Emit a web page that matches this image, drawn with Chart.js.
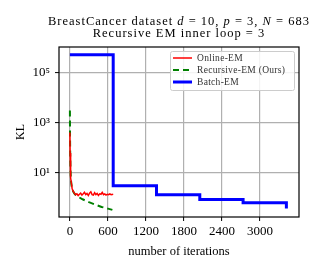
<!DOCTYPE html>
<html>
<head>
<meta charset="utf-8">
<script src="https://cdn.jsdelivr.net/npm/chart.js@4/dist/chart.umd.min.js"></script>
<style>
  html, body { margin: 0; padding: 0; background: #fff; }
  #wrap { width: 314px; height: 271px; }
</style>
</head>
<body>
<div id="wrap"><canvas id="chart" width="314" height="271"></canvas></div>
<script>
// online EM (noisy)
const onlineIter = [0, 3, 8, 15, 25, 35, 50, 70, 90, 110, 130, 150, 170, 190, 210, 230, 250, 270, 290, 310, 330, 350, 370, 390, 410, 430, 450, 470, 490, 510, 530, 550, 570, 590, 610, 630, 650, 683];
const onlineKL = [400, 60, 15, 6, 3.5, 2.3, 1.8, 1.5, 1.3, 1.4, 1.2, 1.35, 1.5, 1.25, 1.4, 1.6, 1.3, 1.45, 1.2, 1.5, 1.7, 1.3, 1.25, 1.55, 1.3, 1.45, 1.2, 1.4, 1.35, 1.6, 1.3, 1.4, 1.25, 1.35, 1.3, 1.4, 1.3, 1.35];

// recursive EM
const recIter = [0, 2, 5, 10, 15, 20, 30, 40, 60, 80, 100, 150, 200, 300, 400, 500, 600, 670];
const recKL = [3000, 300, 50, 12, 6, 4, 2.6, 2.0, 1.6, 1.35, 1.2, 1.0, 0.85, 0.65, 0.52, 0.42, 0.36, 0.32];

// batch EM (one step per full pass of N = 683)
const batchIter = [0, 683, 1366, 2049, 2732, 3415];
const batchKL = [5.2e5, 2.95, 1.29, 0.84, 0.62, 0.36];

const xTicks = [0, 600, 1200, 1800, 2400, 3000];
const yTicks = [10, 1000, 100000];
const yTickLabels = ["10¹", "10³", "10⁵"];

const serif = "'Liberation Serif', 'DejaVu Serif', serif";

function pts(xs, ys) {
  return xs.map((x, i) => ({ x: x, y: ys[i] }));
}

// frame around the plot area
const framePlugin = {
  id: "frame",
  afterDatasetsDraw(chart) {
    const a = chart.chartArea;
    const ctx = chart.ctx;
    ctx.save();
    ctx.strokeStyle = "#000";
    ctx.lineWidth = 1.2;
    ctx.strokeRect(a.left, a.top, a.right - a.left, a.bottom - a.top);
    ctx.restore();
  }
};

// two line title with italic math letters
const titlePlugin = {
  id: "mathTitle",
  afterDraw(chart) {
    const ctx = chart.ctx;
    const a = chart.chartArea;
    const cx = (a.left + a.right) / 2;
    const lines = [
      [["BreastCancer dataset ", ""], ["d", "italic "], [" = 10, ", ""], ["p", "italic "], [" = 3, ", ""], ["N", "italic "], [" = 683", ""]],
      [["Recursive EM inner loop = 3", ""]]
    ];
    const ys = [24.5, 37];
    ctx.save();
    ctx.fillStyle = "#000";
    ctx.textBaseline = "alphabetic";
    ctx.textAlign = "left";
    ctx.letterSpacing = "1px";
    lines.forEach((segs, li) => {
      let w = 0;
      segs.forEach(s => { ctx.font = s[1] + "12.5px " + serif; w += ctx.measureText(s[0]).width; });
      let x = cx - w / 2;
      segs.forEach(s => {
        ctx.font = s[1] + "12.5px " + serif;
        ctx.fillText(s[0], x, ys[li]);
        x += ctx.measureText(s[0]).width;
      });
    });
    ctx.restore();
  }
};

// legend inside the upper right corner
const legendPlugin = {
  id: "innerLegend",
  afterDraw(chart) {
    const ctx = chart.ctx;
    const a = chart.chartArea;
    const boxW = 124, boxH = 39;
    const bx = a.right - 5 - boxW, by = a.top + 4;
    ctx.save();
    ctx.fillStyle = "rgba(255,255,255,0.85)";
    ctx.strokeStyle = "#cccccc";
    ctx.lineWidth = 1;
    ctx.beginPath();
    ctx.roundRect(bx + 0.5, by + 0.5, boxW, boxH, 2);
    ctx.fill();
    ctx.stroke();
    ctx.font = "9.5px " + serif;
    ctx.letterSpacing = "0.3px";
    ctx.textBaseline = "middle";
    ctx.fillStyle = "#333";
    chart.data.datasets.forEach((ds, i) => {
      const y = by + 7 + i * 12;
      ctx.strokeStyle = ds.borderColor;
      ctx.lineWidth = ds.borderWidth;
      ctx.setLineDash(ds.borderDash || []);
      ctx.beginPath();
      ctx.moveTo(bx + 3, y);
      ctx.lineTo(bx + 22, y);
      ctx.stroke();
      ctx.setLineDash([]);
      ctx.fillText(ds.label, bx + 27, y + 0.5);
    });
    ctx.restore();
  }
};

new Chart(document.getElementById("chart"), {
  type: "line",
  data: {
    datasets: [
      {
        label: "Online-EM",
        data: pts(onlineIter, onlineKL),
        borderColor: "#ff0000",
        borderWidth: 1.5,
        pointRadius: 0
      },
      {
        label: "Recursive-EM (Ours)",
        data: pts(recIter, recKL),
        borderColor: "#008000",
        borderWidth: 2,
        borderDash: [6, 4],
        pointRadius: 0
      },
      {
        label: "Batch-EM",
        data: pts(batchIter, batchKL),
        borderColor: "#0000ff",
        borderWidth: 3,
        stepped: "before",
        pointRadius: 0
      }
    ]
  },
  options: {
    responsive: false,
    animation: false,
    layout: { padding: { top: 47, right: 15, left: 0, bottom: 0 } },
    plugins: {
      legend: { display: false },
      tooltip: { enabled: false }
    },
    scales: {
      x: {
        type: "linear",
        min: -172,
        max: 3614,
        afterBuildTicks(scale) { scale.ticks = xTicks.map(v => ({ value: v })); },
        afterFit(scale) { scale.height = 54; },
        grid: { color: "#b0b0b0", lineWidth: 1.2, tickColor: "#000", tickLength: 4, tickWidth: 1 },
        border: { display: false },
        ticks: { color: "#000", font: { family: serif, size: 13 }, padding: 3, maxRotation: 0, callback: (v) => String(v) },
        title: { display: true, text: "number of iterations", color: "#000", font: { family: serif, size: 12.5 }, padding: { top: 0, bottom: 12 } }
      },
      y: {
        type: "logarithmic",
        min: 0.166,
        max: 1.05e6,
        afterBuildTicks(scale) { scale.ticks = yTicks.map(v => ({ value: v })); },
        afterFit(scale) { scale.width = 59; },
        grid: { color: "#b0b0b0", lineWidth: 1.2, tickColor: "#000", tickLength: 4, tickWidth: 1 },
        border: { display: false },
        ticks: {
          color: "#000",
          font: { family: serif, size: 13 },
          padding: 5,
          callback: (v) => yTickLabels[yTicks.indexOf(v)]
        },
        title: { display: true, text: "KL", color: "#000", font: { family: serif, size: 12 }, padding: { top: 14, bottom: 0 } }
      }
    }
  },
  plugins: [framePlugin, legendPlugin, titlePlugin]
});
</script>
</body>
</html>
